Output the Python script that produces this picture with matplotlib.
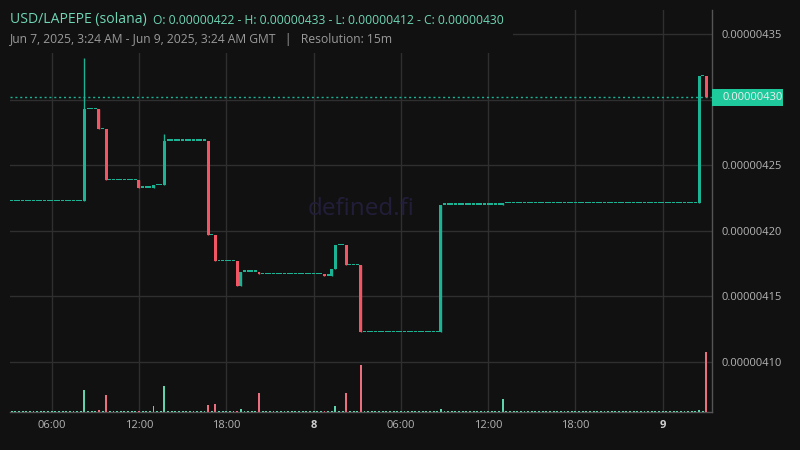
import numpy as np
import matplotlib
matplotlib.use("Agg")
import matplotlib.pyplot as plt
from matplotlib.patches import Rectangle
import matplotlib.transforms as mtransforms

plt.rcParams["font.family"] = ["Open Sans", "DejaVu Sans"]

# ---------------- data ----------------
# Candle times in hours since Jun 7, 2025 00:00 GMT (15m resolution)
first_candle_hour = 3.25      # 03:15 Jun 7
last_candle_hour = 51.0       # 03:00 Jun 9
start_price = 0.000004223

# Candles where price moved (others are flat at previous close)
move_hours = [8.25, 9.25, 9.75, 12.0, 13.0, 13.75, 16.75, 17.25, 18.75, 19.0, 20.25,
              24.75, 25.25, 25.5, 26.25, 27.25, 32.75, 37.0, 50.5, 51.0]
move_close = [4.293e-6, 4.278e-6, 4.239e-6, 4.233e-6, 4.235e-6, 4.269e-6, 4.197e-6,
              4.177e-6, 4.158e-6, 4.169e-6, 4.167e-6, 4.166e-6, 4.171e-6, 4.189e-6,
              4.174e-6, 4.123e-6, 4.220e-6, 4.221e-6, 4.318e-6, 4.302e-6]
move_high = {8.25: 4.332e-6, 13.75: 4.274e-6}
move_volume = [22, 2, 17, 1, 6, 26, 7, 8, 1, 3, 19, 1, 1, 6, 19, 47, 3, 13, 2, 60]
flat_volume = 1.2

y_ticks = [4.10e-6, 4.15e-6, 4.20e-6, 4.25e-6, 4.35e-6]
grid_prices = [4.10e-6, 4.15e-6, 4.20e-6, 4.25e-6, 4.30e-6, 4.35e-6]
x_ticks = [6, 12, 18, 24, 30, 36, 42, 48]
x_labels = ["06:00", "12:00", "18:00", "8", "06:00", "12:00", "18:00", "9"]

# ---------------- build OHLCV ----------------
hours = np.arange(first_candle_hour, last_candle_hour + 0.001, 0.25)
opens, highs, lows, closes, vols = [], [], [], [], []
prev = start_price
mv = {h: (c, v) for h, c, v in zip(move_hours, move_close, move_volume)}
for h in hours:
    key = round(h, 2)
    if key in mv:
        c, v = mv[key]
    else:
        c, v = prev, flat_volume
    o = prev
    hi = max(o, c, move_high.get(key, 0))
    lo = min(o, c)
    opens.append(o); highs.append(hi); lows.append(lo); closes.append(c); vols.append(v)
    prev = c
opens = np.array(opens); highs = np.array(highs); lows = np.array(lows)
closes = np.array(closes); vols = np.array(vols)

# ---------------- style ----------------
BG = "#111111"
GRID = "#2f2f2f"
GREEN = "#1bb394"
RED = "#f25563"
VGREEN = "#5fd3ae"
VRED = "#ec6f80"
TXT = "#b4b4b4"

fig = plt.figure(figsize=(8, 4.5), dpi=100, facecolor=BG)
L, R, B, T = 10/800, 712/800, (450-412)/450, (450-10)/450
ax = fig.add_axes([L, B, R-L, T-B])
ax.set_facecolor(BG)

ymin, ymax = 4.0618e-6, 4.3687e-6
xmin, xmax = 3.134, 51.388
ax.set_xlim(xmin, xmax)
ax.set_ylim(ymin, ymax)

# grid
for p in grid_prices:
    ax.axhline(p, color=GRID, lw=1, zorder=0)
for xt in x_ticks:
    ax.axvline(xt, color=GRID, lw=1, zorder=0)

# volume (overlay axis)
ax2 = ax.twinx()
ax2.set_ylim(0, 402)
ax2.set_xlim(xmin, xmax)
ax2.axis("off")
up = closes >= opens
ax2.bar(hours, vols, width=0.13, color=np.where(up, VGREEN, VRED), linewidth=0, zorder=1)

# candles
px = (ymax - ymin) / 402.0
body_bottom = np.minimum(opens, closes)
body_h = np.maximum(np.abs(closes - opens), 1.3 * px)
ccol = np.where(up, GREEN, RED)
ax.vlines(hours, lows, highs, colors=ccol, lw=1, zorder=3)
ax.bar(hours, body_h, bottom=body_bottom, width=0.205, color=ccol, linewidth=0, zorder=4)

# current price line
last_close = closes[-1]
ax.axhline(last_close, color=GREEN, lw=1, ls=(0, (1.5, 2)), zorder=2)

# spines
for s in ["top", "left"]:
    ax.spines[s].set_visible(False)
ax.spines["right"].set_color("#555555")
ax.spines["bottom"].set_color("#555555")
ax.spines["right"].set_linewidth(1)
ax.spines["bottom"].set_linewidth(1)

# ticks
ax.yaxis.tick_right()
ax.set_yticks(y_ticks)
ax.set_yticklabels([f"{v:.8f}" for v in y_ticks])
ax.tick_params(axis="y", length=0, pad=7, labelsize=8, labelcolor=TXT)
ax.set_xticks(x_ticks)
ax.set_xticklabels(x_labels)
ax.tick_params(axis="x", length=0, pad=6, labelsize=8, labelcolor=TXT)
for lab in ax.get_xticklabels():
    if lab.get_text() in ("8", "9"):
        lab.set_fontweight("bold")
        lab.set_color("#d0d0d0")

# price tag
blend = mtransforms.blended_transform_factory(ax.transAxes, ax.transData)
ax.add_patch(Rectangle((1.0, last_close - 8.5 * px), 71 / 702, 17 * px, transform=blend,
                       facecolor="#1ec99b", edgecolor="none", clip_on=False, zorder=10))
ax.text(1.0 + 10 / 702, last_close, f"{last_close:.8f}", transform=blend, ha="left",
        va="center", fontsize=8, color="#f0f0f0", zorder=11, clip_on=False)

# watermark
ax.text(0.5, 0.505, "defined.fi", transform=ax.transAxes, ha="center", va="center",
        fontsize=17.5, color="#221e3a", zorder=1)

# title block (with background)
fig.patches.append(Rectangle((0, (450-53)/450), 513/800, 53/450, transform=fig.transFigure,
                             facecolor=BG, edgecolor="none", zorder=20))
fig.text(10/800, 1 - 20/450, "USD/LAPEPE (solana)", fontsize=10.1, color="#6fd6b6",
         ha="left", va="center", zorder=21)
ohlc = (f"O: {opens[0]:.8f} - H: {highs.max():.8f} - L: {lows.min():.8f} - C: {closes[-1]:.8f}")
fig.text(153/800, 1 - 20/450, ohlc, fontsize=8.75, color="#6fd6b6", ha="left", va="center", zorder=21)
fig.text(10/800, 1 - 40/450, "Jun 7, 2025, 3:24 AM - Jun 9, 2025, 3:24 AM GMT   |   Resolution: 15m",
         fontsize=8.75, color="#9a9a9a", ha="left", va="center", zorder=21)

fig.savefig("out.png", dpi=100, facecolor=BG)
